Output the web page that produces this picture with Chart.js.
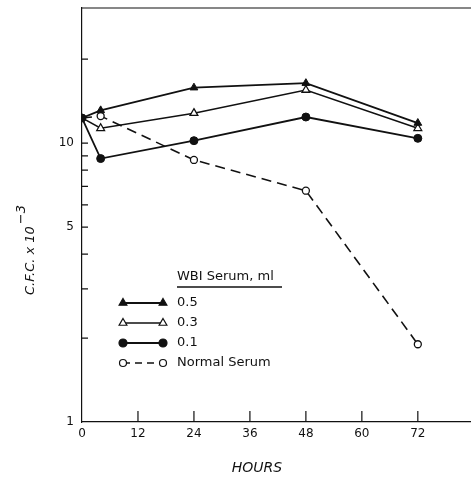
<!DOCTYPE html>
<html>
<head>
<meta charset="utf-8">
<script src="https://cdn.jsdelivr.net/npm/chart.js@4/dist/chart.umd.min.js"></script>
<style>
html,body{margin:0;padding:0;background:#fff;}
canvas{display:block;}
</style>
</head>
<body>
<canvas id="c" width="471" height="479"></canvas>
<script>
const hours = [0, 4, 24, 48, 72];
const serum05 = [12.3, 13.1, 15.8, 16.4, 11.8];
const serum03 = [12.3, 11.3, 12.8, 15.5, 11.3];
const serum01 = [12.3, 8.8, 10.2, 12.4, 10.4];
const normalSerum = [12.3, 12.5, 8.7, 6.75, 1.9];
const xTickValues = [0, 12, 24, 36, 48, 60, 72];
const yTickValues = [1, 2, 3, 4, 5, 6, 7, 8, 9, 10, 20];
const yTickLabels = {1: '1', 5: '5', 10: '10'};
const legendTitle = 'WBI Serum, ml';
const legendLabels = ['0.5', '0.3', '0.1', 'Normal Serum'];

const FONT = '"DejaVu Sans", sans-serif';
function pts(arr){ return hours.map((h,i)=>({x:h, y:arr[i]})); }

const datasets = [
  {label:legendLabels[0], data:pts(serum05), borderColor:'#111', borderWidth:1.8, pointStyle:'triangle',
   pointRadius:[0,4.5,4.5,4.5,4.5], pointBackgroundColor:'#111', pointBorderColor:'#111', pointBorderWidth:1},
  {label:legendLabels[1], data:pts(serum03), borderColor:'#111', borderWidth:1.5, pointStyle:'triangle',
   pointRadius:[0,4.5,4.5,4.5,4.5], pointBackgroundColor:'#fff', pointBorderColor:'#111', pointBorderWidth:1.3},
  {label:legendLabels[3], data:pts(normalSerum), borderColor:'#111', borderWidth:1.6, borderDash:[10,6], pointStyle:'circle',
   pointRadius:[0,3.5,3.5,3.5,3.5], pointBackgroundColor:'#fff', pointBorderColor:'#111', pointBorderWidth:1.3},
  {label:legendLabels[2], data:pts(serum01), borderColor:'#111', borderWidth:1.8, pointStyle:'circle',
   pointRadius:4, pointBackgroundColor:'#111', pointBorderColor:'#111', pointBorderWidth:1}
];

const legendStyles = [
  {style:'triangle', fill:'#111', dash:[], lw:1.8, r:4.5},
  {style:'triangle', fill:'#fff', dash:[], lw:1.3, r:4.5},
  {style:'circle', fill:'#111', dash:[], lw:1.8, r:4},
  {style:'circle', fill:'#fff', dash:[7,5], lw:1.5, r:3.5}
];

const decor = {
  id:'decor',
  afterDraw(chart){
    const ctx = chart.ctx, a = chart.chartArea;
    const xs = chart.scales.x, ys = chart.scales.y;
    ctx.save();
    ctx.strokeStyle = '#111';
    ctx.lineWidth = 1.2;
    ctx.beginPath(); ctx.moveTo(a.left, a.top); ctx.lineTo(a.right, a.top); ctx.stroke();
    ctx.beginPath();
    yTickValues.forEach(v=>{ if(v===1) return; const y = ys.getPixelForValue(v); ctx.moveTo(a.left, y); ctx.lineTo(a.left+6, y); });
    xTickValues.forEach(v=>{ if(v===0) return; const x = xs.getPixelForValue(v); ctx.moveTo(x, a.bottom); ctx.lineTo(x, a.bottom-11); });
    ctx.stroke();

    ctx.fillStyle = '#111';
    ctx.font = '13px ' + FONT;
    ctx.textBaseline = 'middle';
    ctx.textAlign = 'left';
    ctx.fillText(legendTitle, 177, 277);
    ctx.lineWidth = 1.3;
    ctx.beginPath(); ctx.moveTo(177, 287); ctx.lineTo(282, 287); ctx.stroke();
    const rows = [303, 323, 343, 363];
    legendLabels.forEach((lab, i)=>{
      const st = legendStyles[i], y = rows[i];
      ctx.setLineDash(st.dash);
      ctx.lineWidth = st.lw;
      ctx.beginPath(); ctx.moveTo(123, y); ctx.lineTo(163, y); ctx.stroke();
      ctx.setLineDash([]);
      [123, 163].forEach(x=>{
        ctx.fillStyle = st.fill; ctx.strokeStyle = '#111'; ctx.lineWidth = 1.2;
        Chart.helpers.drawPoint(ctx, {pointStyle:st.style, radius:st.r, rotation:0, borderWidth:1.2}, x, y);
      });
      ctx.fillStyle = '#111';
      ctx.fillText(lab, 177, y);
    });

    ctx.font = 'italic 14px ' + FONT;
    ctx.textAlign = 'center';
    ctx.fillText('HOURS', 257, 468);

    ctx.translate(31, 295);
    ctx.rotate(-Math.PI/2);
    ctx.textAlign = 'left';
    ctx.font = 'italic 13px ' + FONT;
    const main = 'C.F.C. x 10';
    ctx.fillText(main, 0, 0);
    const w = ctx.measureText(main).width;
    ctx.font = 'italic 13px ' + FONT;
    ctx.fillText('\u22123', w + 2, -9);
    ctx.restore();
  }
};

new Chart(document.getElementById('c'), {
  type:'line',
  data:{datasets},
  options:{
    responsive:false,
    animation:false,
    layout:{autoPadding:false, padding:{top:8, right:0, left:0, bottom:0}},
    plugins:{legend:{display:false}, tooltip:{enabled:false}},
    elements:{line:{tension:0, fill:false}},
    scales:{
      x:{
        type:'linear', min:0, max:83.4,
        afterBuildTicks(s){ s.ticks = xTickValues.map(v=>({value:v})); },
        afterFit(s){ s.height = 57; s.paddingLeft = 0; s.paddingRight = 0; },
        grid:{display:false, drawTicks:false},
        border:{display:true, color:'#111', width:1.2},
        ticks:{color:'#111', font:{family:FONT, size:12}, padding:5, maxRotation:0, autoSkip:false, callback:v=>String(v)}
      },
      y:{
        type:'logarithmic', min:1, max:30.5,
        afterBuildTicks(s){ s.ticks = yTickValues.map(v=>({value:v})); },
        afterFit(s){ s.width = 82; s.paddingTop = 0; s.paddingBottom = 0; },
        grid:{display:false, drawTicks:false},
        border:{display:true, color:'#111', width:1.2},
        ticks:{color:'#111', font:{family:FONT, size:12}, padding:8, autoSkip:false, callback:v=>yTickLabels[v] || ''}
      }
    }
  },
  plugins:[decor]
});
</script>
</body>
</html>
